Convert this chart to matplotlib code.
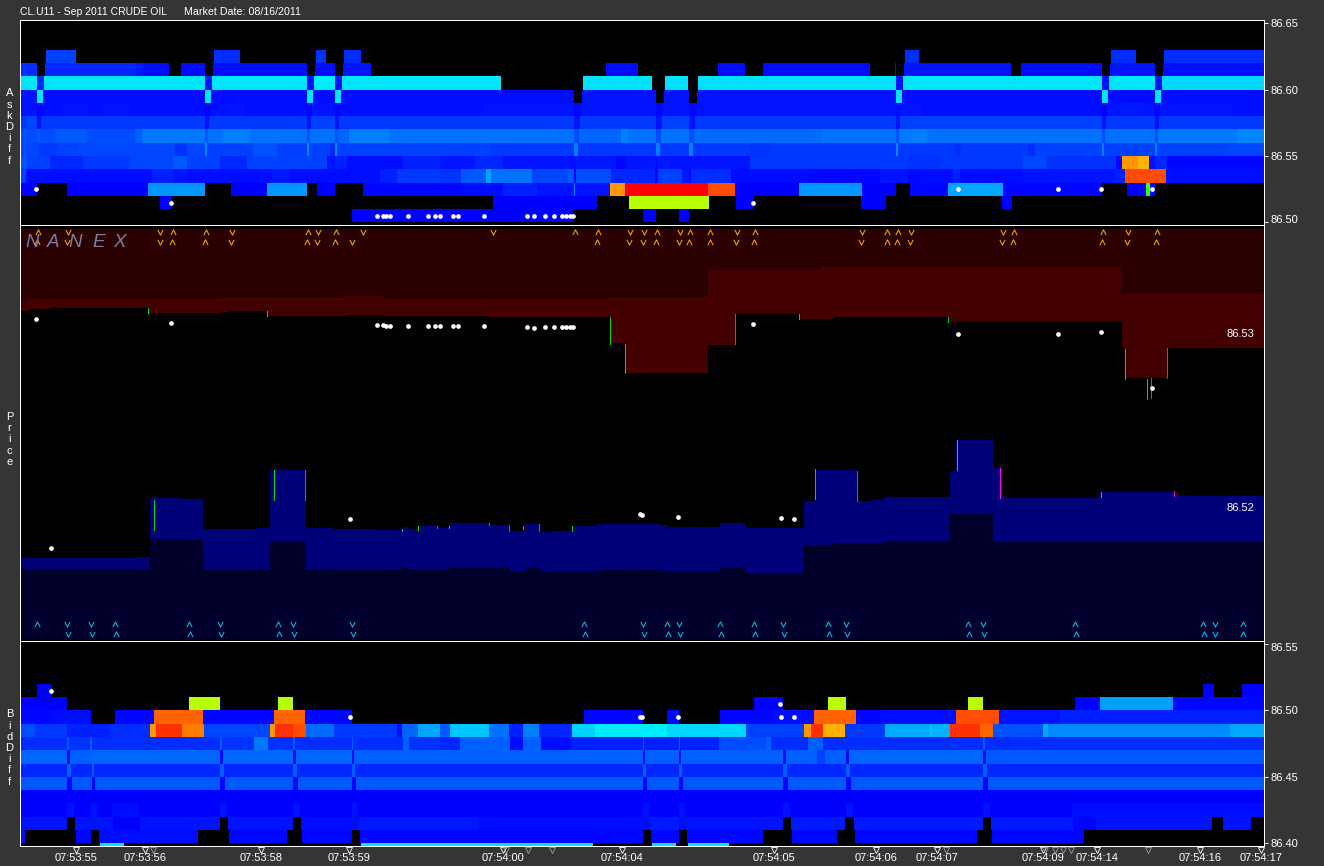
import matplotlib
matplotlib.use("Agg")
import matplotlib.pyplot as plt
from matplotlib.colors import LinearSegmentedColormap, Normalize
from matplotlib.path import Path
from matplotlib.transforms import blended_transform_factory, ScaledTranslation

plt.rcParams['font.family'] = ['Liberation Sans', 'DejaVu Sans']

# ---------- heat ladders: (start, end, heat) per price row ----------
ASK_8662 = [(46,76,10),(214,218,8),(218,240,7),(316,326,8),(344,361,7),(905,919,7),(1111,1136,7),(1164,1264,7)]
ASK_8661 = [(21,37,7),(45,136,6),(136,143,4),(143,169,2),(181,205,2),(213,307,2),(315,335,2),(343,371,3),
            (606,638,2),(718,745,2),(763,870,2),(895,896,2),(904,1011,3),(1021,1102,2),(1110,1155,3),(1163,1264,2)]
ASK_8660 = [(21,37,36),(37,44,6),(44,205,36),(205,212,3),(212,307,36),(307,314,3),(314,335,37),(335,342,3),(342,501,36),
            (583,652,35),(665,688,35),(698,896,35),(896,903,3),(903,1102,36),(1102,1109,3),(1109,1155,36),(1155,1162,3),(1162,1264,34)]
ASK_8659 = [(21,37,3),(37,43,36),(43,205,2),(205,211,36),(211,307,2),(307,313,36),(313,335,2),(335,341,36),(341,574,2),
            (582,656,3),(664,689,3),(697,896,3),(896,902,36),(902,1102,2),(1102,1108,36),(1108,1155,2),(1155,1161,36),(1161,1264,2)]
ASK_8658 = [(21,37,3),(37,42,1),(42,63,2),(63,88,3),(88,103,2),(103,130,3),(130,205,2),(205,210,1),(210,217,2),(217,245,3),
            (245,307,2),(307,312,1),(312,335,3),(335,340,1),(340,482,2),(482,574,3),(574,581,1),(581,656,3),(656,663,1),
            (663,689,3),(689,696,1),(696,704,2),(704,896,3),(896,900,2),(900,923,3),(923,1102,2),(1102,1107,0),(1107,1119,3),
            (1119,1144,4),(1144,1155,3),(1155,1160,1),(1160,1232,3),(1232,1264,2)]
ASK_8657 = [(21,27,9),(27,37,11),(37,41,3),(41,205,9),(205,209,3),(209,307,9),(307,311,3),(311,335,10),(335,339,3),(339,574,9),
            (574,580,3),(580,656,9),(656,662,3),(662,689,10),(689,695,3),(695,896,9),(896,900,3),(900,1102,10),(1102,1106,3),
            (1106,1155,9),(1155,1159,3),(1159,1264,9)]
ASK_8656 = [(21,37,12),(37,40,14),(40,55,12),(55,87,14),(87,135,12),(135,142,15),(142,205,19),(205,208,14),(208,223,18),(223,250,20),
            (250,307,18),(307,310,13),(310,335,18),(335,338,13),(338,349,16),(349,389,20),(389,574,18),(574,579,12),(579,621,16),
            (621,628,20),(628,656,18),(656,661,12),(661,689,18),(689,694,12),(694,822,17),(822,896,18),(896,899,13),(899,913,19),
            (913,927,20),(927,1102,18),(1102,1105,12),(1105,1155,18),(1155,1158,12),(1158,1237,19),(1237,1264,21)]
ASK_8655 = [(21,39,11),(39,57,9),(57,78,10),(78,175,11),(175,187,8),(187,205,11),(205,207,22),(207,253,10),(253,277,13),(277,307,10),
            (307,309,22),(309,330,10),(330,335,7),(335,337,22),(337,490,10),(490,574,9),(574,578,20),(578,656,9),(656,660,20),
            (660,689,9),(689,693,20),(693,750,9),(750,770,8),(770,896,9),(896,898,22),(898,955,9),(955,961,7),(961,1028,9),
            (1028,1035,7),(1035,1102,10),(1102,1104,20),(1104,1155,10),(1155,1157,20),(1157,1227,10),(1227,1264,11)]
ASK_8654 = [(21,27,13),(27,50,10),(50,83,6),(83,130,9),(130,173,11),(173,187,14),(187,220,10),(220,247,6),(247,327,10),(327,335,3),
            (335,347,5),(347,403,2),(403,440,5),(440,443,4),(443,475,3),(475,503,6),(503,574,3),(574,575,1),(575,616,4),(616,626,1),(626,647,3),
            (647,656,4),(656,657,1),(657,670,4),(670,750,3),(750,907,9),(907,940,8),(940,1023,9),(1023,1047,11),(1047,1116,8),(1116,1122,1),
            (1122,1138,68),(1138,1149,66),(1149,1156,3),(1156,1167,6),(1167,1264,1)]
ASK_8653 = [(21,26,10),(26,152,2),(152,173,5),(173,188,3),(188,272,2),(272,289,4),(289,380,2),(380,397,5),(397,440,9),(440,461,8),
            (461,486,14),(486,491,26),(491,532,18),(532,568,11),(568,574,14),(574,576,1),(576,611,12),(611,655,6),(655,658,1),
            (658,682,10),(682,689,4),(689,691,1),(691,731,7),(731,809,2),(809,821,1),(821,880,1),(880,908,3),(908,920,1),(920,953,2),
            (953,960,5),(960,1023,2),(1023,1115,3),(1115,1125,5),(1125,1166,74),(1166,1264,2)]
ASK_8652 = [(21,37,0),(67,148,0),(148,205,24),(231,267,0),(267,307,24),(317,335,0),(363,465,1),(465,503,2),(503,537,5),(537,574,3),
            (574,575,20),(575,610,3),(610,625,68),(625,708,80),(708,735,74),(735,799,0),(799,862,24),(862,896,0),(910,948,1),(948,1003,26),
            (1003,1102,1),(1127,1146,0),(1146,1150,52),(1150,1155,2)]
ASK_8651 = [(160,172,0),(493,597,0),(629,709,57),(736,754,0),(861,886,0),(1002,1012,0)]
ASK_8650 = [(352,574,0),(643,656,0),(679,689,0)]
ASK_ROWS = [ASK_8650, ASK_8651, ASK_8652, ASK_8653, ASK_8654, ASK_8655, ASK_8656,
            ASK_8657, ASK_8658, ASK_8659, ASK_8660, ASK_8661, ASK_8662]
ASK_ROW_PRICE = [86.50, 86.51, 86.52, 86.53, 86.54, 86.55, 86.56, 86.57, 86.58, 86.59, 86.60, 86.61, 86.62]

BID_8651 = [(37,52,0),(1203,1214,0),(1242,1264,0)]
BID_8650 = [(21,67,0),(189,220,57),(278,293,57),(754,783,0),(828,846,57),(968,983,57),(1075,1100,0),(1100,1173,25),(1173,1264,1)]
BID_8649 = [(21,53,1),(53,91,2),(115,154,1),(154,203,72),(203,274,1),(274,305,72),(305,352,1),(584,643,1),(667,679,1),(720,774,1),
            (774,814,2),(814,856,72),(856,880,1),(880,956,2),(956,999,74),(999,1060,3),(1060,1264,5)]
BID_8648 = [(21,35,12),(35,67,9),(67,110,5),(110,150,7),(150,156,68),(156,182,76),(182,204,70),(204,270,11),(270,275,68),(275,293,76),
            (293,306,74),(306,334,17),(334,397,9),(397,402,2),(402,418,16),(418,440,26),(440,450,14),(450,489,31),(489,509,18),
            (509,523,5),(523,539,20),(539,572,6),(572,595,33),(595,667,37),(667,746,34),(746,804,10),(804,811,68),(811,823,76),
            (823,845,66),(845,885,9),(885,930,27),(930,932,31),(932,950,28),(950,980,76),(980,993,72),(993,1043,13),(1043,1048,26),
            (1048,1230,22),(1230,1264,26)]
BID_8647 = [(21,67,7),(67,69,15),(69,90,8),(90,92,15),(92,220,7),(220,222,15),(222,254,8),(254,268,19),(268,293,8),(293,295,15),
            (295,352,7),(352,353,15),(353,403,7),(403,409,15),(409,440,8),(440,460,6),(460,510,15),(510,523,2),(523,541,15),(541,571,2),
            (571,643,5),(643,644,15),(644,679,5),(679,680,15),(680,719,5),(719,766,12),(766,771,15),(771,808,7),(808,823,15),
            (823,983,7),(983,985,15),(985,1264,7)]
BID_8646 = [(21,67,16),(67,70,1),(70,92,15),(92,220,16),(220,223,1),(223,293,16),(293,296,1),(296,352,16),(352,354,1),(354,643,15),
            (643,645,1),(645,679,15),(679,681,1),(681,783,15),(783,786,1),(786,817,15),(817,825,10),(825,846,15),(846,849,1),
            (849,983,16),(983,986,1),(986,1264,14)]
BID_8645 = [(21,67,6),(67,71,15),(71,92,6),(92,94,15),(94,220,6),(220,224,15),(224,293,6),(293,297,15),(297,352,6),(352,355,15),
            (355,643,6),(643,646,15),(646,679,6),(679,682,15),(682,783,6),(783,787,15),(787,846,6),(846,850,15),(850,983,6),
            (983,987,15),(987,1264,6)]
BID_8644 = [(21,67,14),(67,72,1),(72,92,14),(92,95,1),(95,220,14),(220,225,1),(225,293,14),(293,298,1),(298,352,14),(352,356,1),
            (356,643,14),(643,647,1),(647,679,14),(679,683,1),(683,783,14),(783,788,1),(788,846,14),(846,851,1),(851,983,14),
            (983,988,1),(988,1264,14)]
BID_8643 = [(21,1264,0)]
BID_8642 = [(21,67,0),(67,74,3),(74,91,0),(91,97,3),(97,112,0),(112,139,2),(139,220,0),(220,227,3),(227,293,0),(293,300,3),(300,352,0),
            (352,358,3),(358,643,0),(643,649,3),(649,679,0),(679,685,3),(685,783,0),(783,790,3),(790,846,0),(846,853,3),(853,983,0),
            (983,990,3),(990,1072,0),(1072,1264,2)]
BID_8641 = [(21,67,3),(75,113,3),(113,140,0),(140,220,3),(228,293,3),(301,359,2),(359,478,4),(478,643,2),(643,650,2),(650,679,4),
            (679,686,2),(686,783,3),(791,845,4),(854,983,4),(991,1073,4),(1073,1096,1),(1096,1212,3),(1223,1251,3)]
BID_8640 = [(21,25,2),(76,91,1),(99,198,2),(229,287,1),(302,352,1),(360,643,1),(651,679,1),(687,763,1),(792,837,1),(855,977,1),(992,1084,1)]
BID_8639 = [(100,124,36),(361,593,36),(652,676,36),(688,729,36)]
BID_ROWS = [BID_8639, BID_8640, BID_8641, BID_8642, BID_8643, BID_8644, BID_8645,
            BID_8646, BID_8647, BID_8648, BID_8649, BID_8650, BID_8651]
BID_ROW_PRICE = [86.39, 86.40, 86.41, 86.42, 86.43, 86.44, 86.45, 86.46, 86.47, 86.48, 86.49, 86.50, 86.51]

# ---------- price panel step series ----------
PRICE_CEIL = 86.53605
PRICE_FLOOR = 86.51250
ASK_UPPER_X = [20, 28, 220, 347, 384, 610, 708, 820, 1100, 1122, 1265]
ASK_UPPER_P = [86.53195, 86.53207, 86.53213, 86.53218, 86.53207, 86.53213, 86.53375, 86.53385, 86.53391, 86.53230, 86.53230]
ASK_LOWER_X = [20, 29, 50, 149, 222, 230, 267, 347, 384, 487, 610, 625, 708, 735, 799, 834, 948, 1122, 1125, 1167, 1265]
ASK_LOWER_P = [86.53132, 86.53141, 86.53149, 86.53122, 86.53126, 86.53132, 86.53103, 86.53109, 86.53103, 86.53098, 86.52947,
               86.52778, 86.52937, 86.53115, 86.53086, 86.53098, 86.53069, 86.52920, 86.52747, 86.52920, 86.52920]
BID_UPPER_X = [20, 135, 150, 182, 203, 256, 270, 306, 333, 375, 402, 408, 419, 437, 450, 490, 510, 525, 540, 553, 572, 598, 660,
               668, 720, 746, 804, 815, 857, 872, 884, 950, 956, 993, 999, 1100, 1173, 1265]
BID_UPPER_P = [86.51713, 86.51718, 86.52057, 86.52052, 86.51879, 86.51885, 86.52218, 86.51885, 86.51879, 86.51874, 86.51891,
               86.51879, 86.51897, 86.51885, 86.51914, 86.51902, 86.51868, 86.51908, 86.51862, 86.51868, 86.51897, 86.51908,
               86.51902, 86.51891, 86.51914, 86.51885, 86.52040, 86.52218, 86.52040, 86.52046, 86.52063, 86.52213, 86.52391,
               86.52230, 86.52057, 86.52092, 86.52069, 86.52069]
BID_LOWER_X = [20, 150, 182, 203, 256, 270, 306, 333, 402, 408, 450, 510, 525, 540, 553, 598, 660, 720, 746, 804, 830, 884, 950, 993, 1265]
BID_LOWER_P = [86.51649, 86.51822, 86.51816, 86.51644, 86.51649, 86.51810, 86.51649, 86.51644, 86.51655, 86.51644, 86.51655,
               86.51632, 86.51655, 86.51632, 86.51638, 86.51644, 86.51638, 86.51655, 86.51626, 86.51787, 86.51799, 86.51810,
               86.51966, 86.51805, 86.51805]

UPTICK_X = [148, 267, 610, 625, 799, 948, 1125, 1147, 154, 274, 572, 402, 418, 449, 523, 815, 957, 1101]
UPTICK_HI = [86.53149, 86.53132, 86.53098, 86.52943, 86.53115, 86.53098, 86.52914, 86.52741, 86.52046, 86.52218, 86.51897, 86.51879,
             86.51897, 86.51897, 86.51897, 86.52224, 86.52391, 86.52092]
UPTICK_LO = [86.53121, 86.53103, 86.52943, 86.52776, 86.53086, 86.53069, 86.52741, 86.52626, 86.51874, 86.52046, 86.51868, 86.51868,
             86.51874, 86.51885, 86.51879, 86.52052, 86.52218, 86.52063]
DOWNTICK_X = [735, 1151, 1167, 305, 437, 489, 509, 539, 857, 1000, 1174]
DOWNTICK_HI = [86.53115, 86.52747, 86.52920, 86.52218, 86.51897, 86.51914, 86.51902, 86.51908, 86.52213, 86.52230, 86.52098]
DOWNTICK_LO = [86.52943, 86.52632, 86.52747, 86.52046, 86.51885, 86.51902, 86.51868, 86.51868, 86.52040, 86.52057, 86.52069]

ASK_DOT_X = [36, 171, 377, 383, 386, 390, 408, 428, 435, 440, 453, 458, 484, 527, 534, 545, 554, 562, 566, 570, 573, 753, 958, 1058, 1101, 1152]
ASK_DOT_P = [86.53088, 86.53063, 86.53052, 86.53052, 86.53046, 86.53046, 86.53046, 86.53046, 86.53046, 86.53046, 86.53046, 86.53046,
             86.53046, 86.53040, 86.53034, 86.53040, 86.53040, 86.53040, 86.53040, 86.53040, 86.53040, 86.53057, 86.53000, 86.53000, 86.53011, 86.52690]
ASK_DOT_LADDER = [86.525, 86.515] + [86.505] * 19 + [86.515, 86.525, 86.525, 86.525, 86.525]
BID_DOT_X = [51, 350, 640, 642, 678, 781, 794]
BID_DOT_P = [86.51770, 86.51937, 86.51966, 86.51960, 86.51948, 86.51943, 86.51937]
BID_DOT_LADDER = [86.515, 86.495, 86.495, 86.495, 86.495, 86.495, 86.495]
BID_EXTRA_X = [780]
BID_EXTRA_LADDER = [86.505]

# chevrons: x positions of up / down marks per row
OR1_UP = [38, 173, 206, 308, 336, 575, 598, 657, 690, 710, 755, 887, 898, 1014, 1103, 1157]
OR1_DN = [68, 160, 232, 318, 363, 493, 630, 644, 680, 737, 862, 911, 1003, 1128]
OR2_UP = [37, 172, 205, 307, 335, 597, 656, 689, 710, 754, 887, 897, 1013, 1102, 1156]
OR2_DN = [67, 160, 231, 317, 352, 629, 643, 679, 736, 861, 910, 1002, 1127]
CY1_UP = [37, 115, 189, 278, 584, 667, 720, 754, 828, 968, 1075, 1203, 1243]
CY1_DN = [67, 91, 220, 293, 352, 643, 679, 783, 846, 983, 1215]
CY2_UP = [116, 190, 279, 585, 668, 721, 755, 829, 969, 1076, 1204, 1243]
CY2_DN = [68, 92, 221, 294, 353, 644, 680, 784, 847, 984, 1215]

TIME_TICKS = [76, 145, 261, 349, 503, 622, 774, 876, 937, 1043, 1097, 1200, 1261]
TIME_LABELS = ['07:53:55', '07:53:56', '07:53:58', '07:53:59', '07:54:00', '07:54:04', '07:54:05',
               '07:54:06', '07:54:07', '07:54:09', '07:54:14', '07:54:16', '07:54:17']
MINOR_TIME_TICKS = [153, 506, 528, 552, 946, 1045, 1055, 1063, 1071, 1148]

ASK_TICKS = [86.50, 86.55, 86.60, 86.65]
BID_TICKS = [86.40, 86.45, 86.50, 86.55]
MID_LABELS = [86.53, 86.52]
LOGO_LETTERS = ['N', 'A', 'N', 'E', 'X']
LOGO_X = [25, 47, 68, 92, 113]

# ---------- style ----------
W, H = 1324, 866
BG = '#353633'
heat_cmap = LinearSegmentedColormap.from_list('heat', [
    (0.0, '#0000ff'), (0.5, '#00ffff'), (0.625, '#00ff00'), (0.75, '#ffff00'), (1.0, '#ff0000')])
heat_norm = Normalize(0, 80)

fig = plt.figure(figsize=(W / 100, H / 100), dpi=100, facecolor=BG)


def panel(top, bottom):
    ax = fig.add_axes([20 / W, 1 - bottom / H, (1264 - 20) / W, (bottom - top) / H], facecolor='black')
    ax.set_xlim(20, 1264)
    for s in ax.spines.values():
        s.set_color('white')
        s.set_linewidth(0.72)
    return ax


ax_ask = panel(20, 225)
ax_mid = panel(225, 641)
ax_bid = panel(641, 846)
ax_ask.set_ylim(86.49812, 86.65226)
ax_mid.set_ylim(86.51236, 86.53626)
ax_bid.set_ylim(86.39774, 86.55245)


def ladder(ax, rows, prices):
    for segs, price in zip(rows, prices):
        ax.barh([price] * len(segs), [b - a for a, b, _ in segs], left=[a for a, _, _ in segs], height=0.01,
                align='edge', color=[heat_cmap(heat_norm(h)) for _, _, h in segs], linewidth=0, antialiased=False, zorder=2)


ladder(ax_ask, ASK_ROWS, ASK_ROW_PRICE)
ladder(ax_bid, BID_ROWS, BID_ROW_PRICE)

dot = dict(ls='none', marker='o', ms=3.4, mfc='white', mec='white', mew=0, zorder=6)
ax_ask.plot(ASK_DOT_X, ASK_DOT_LADDER, **dot)
ax_bid.plot(BID_DOT_X, BID_DOT_LADDER, **dot)
ax_bid.plot(BID_EXTRA_X, BID_EXTRA_LADDER, **dot)

# price panel bands
RED, DARK_RED, NAVY, DARK_NAVY = '#420000', '#2a0000', '#000078', '#00002a'
ax_mid.fill_between(ASK_LOWER_X, ASK_LOWER_P, PRICE_CEIL, step='post', color=RED, lw=0, zorder=1, antialiased=False)
ax_mid.fill_between(ASK_UPPER_X, ASK_UPPER_P, PRICE_CEIL, step='post', color=DARK_RED, lw=0, zorder=1.5, antialiased=False)
ax_mid.fill_between(BID_UPPER_X, BID_UPPER_P, PRICE_FLOOR, step='post', color=NAVY, lw=0, zorder=1, antialiased=False)
ax_mid.fill_between(BID_LOWER_X, BID_LOWER_P, PRICE_FLOOR, step='post', color=DARK_NAVY, lw=0, zorder=1.5, antialiased=False)
for xs, lo, hi, col in [(UPTICK_X, UPTICK_LO, UPTICK_HI, '#00e000'), (DOWNTICK_X, DOWNTICK_LO, DOWNTICK_HI, '#ff00ff')]:
    lc = ax_mid.vlines(xs, lo, hi, color=col, lw=0.72, zorder=4, antialiased=False)
    lc.set_snap(True)
ax_mid.plot(ASK_DOT_X, ASK_DOT_P, **dot)
ax_mid.plot(BID_DOT_X, BID_DOT_P, **dot)

UP = Path([(-1, -1), (0, 1), (1, -1)], [Path.MOVETO, Path.LINETO, Path.LINETO])
DN = Path([(-1, 1), (0, -1), (1, 1)], [Path.MOVETO, Path.LINETO, Path.LINETO])
mid_tr = blended_transform_factory(ax_mid.transData, ax_mid.transAxes)
for xs, frac, mark, col in [(OR1_UP, .983, UP, '#ffb400'), (OR1_DN, .983, DN, '#ffb400'),
                            (OR2_UP, .959, UP, '#ffb400'), (OR2_DN, .959, DN, '#ffb400'),
                            (CY1_UP, .041, UP, '#00c8ff'), (CY1_DN, .041, DN, '#00c8ff'),
                            (CY2_UP, .017, UP, '#00c8ff'), (CY2_DN, .017, DN, '#00c8ff')]:
    ax_mid.plot(xs, [frac] * len(xs), transform=mid_tr, ls='none', marker=mark, ms=3.8, mfc='none', mec=col, mew=0.7, zorder=5)

for letter, x in zip(LOGO_LETTERS, LOGO_X):
    ax_mid.text(x, 0.9575, letter, transform=mid_tr, color='#7c7ca4', style='italic', fontsize=13.5,
                ha='left', va='center', zorder=7)
for p in MID_LABELS:
    ax_mid.text(1240, p, f'{p:.2f}', color='white', fontsize=8, ha='center', va='center', zorder=7)

# axes furniture
for ax, ticks in [(ax_ask, ASK_TICKS), (ax_bid, BID_TICKS)]:
    ax.yaxis.tick_right()
    ax.set_yticks(ticks, [f'{t:.2f}' for t in ticks])
    ax.tick_params(axis='y', colors='white', labelsize=8, length=3, width=0.72, pad=2)
for lab, shift in [(ax_ask.get_yticklabels()[0], 3), (ax_bid.get_yticklabels()[-1], -3)]:
    lab.set_transform(lab.get_transform() + ScaledTranslation(0, shift / 100, fig.dpi_scale_trans))
ax_ask.set_xticks([])
ax_mid.set_xticks([])
ax_mid.set_yticks([])
ax_bid.set_xticks(TIME_TICKS, TIME_LABELS)
ax_bid.tick_params(axis='x', colors='white', labelsize=8, length=0, pad=5)
bid_tr = blended_transform_factory(ax_bid.transData, ax_bid.transAxes)
ax_bid.plot(TIME_TICKS, [-0.018] * len(TIME_TICKS), transform=bid_tr, ls='none', marker='v', ms=4.5, mfc='none',
            mec='white', mew=0.6, clip_on=False, zorder=8)
ax_bid.plot(MINOR_TIME_TICKS, [-0.018] * len(MINOR_TIME_TICKS), transform=bid_tr, ls='none', marker='v', ms=4.5, mfc='none',
            mec='#a0a0a0', mew=0.6, clip_on=False, zorder=8)

fig.text(20 / W, 1 - 12 / H, 'CL.U11 - Sep 2011 CRUDE OIL', color='white', fontsize=7.45, ha='left', va='center')
fig.text(184 / W, 1 - 12 / H, 'Market Date: 08/16/2011', color='white', fontsize=7.7, ha='left', va='center')
for word, cy in [('AskDiff', 127), ('Price', 439.5), ('BidDiff', 748)]:
    fig.text(9.5 / W, 1 - cy / H, '\n'.join(word), color='white', fontsize=8, ha='center', va='center', linespacing=1.15)

fig.savefig('out.png', dpi=100, facecolor=BG)
